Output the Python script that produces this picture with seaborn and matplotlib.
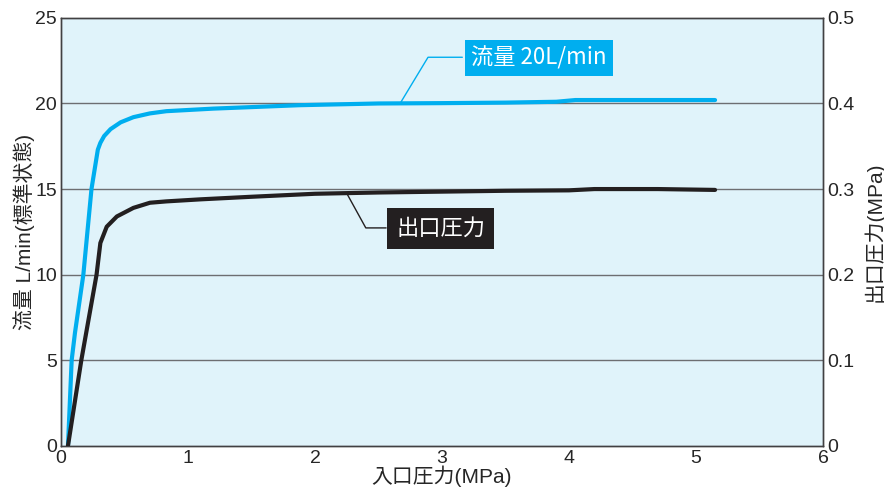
import matplotlib
matplotlib.use("Agg")
import matplotlib.pyplot as plt
import seaborn as sns
import pandas as pd

# inlet pressure (MPa) vs flow (L/min)
flow_x = [0.055, 0.084, 0.11, 0.176, 0.24, 0.29, 0.31, 0.34, 0.39, 0.47, 0.57, 0.70, 0.83,
          1.2, 1.88, 2.5, 3.0, 3.5, 3.9, 4.05, 4.5, 5.15]
flow_y = [0.0, 5.0, 6.6, 10.0, 15.0, 17.3, 17.7, 18.1, 18.5, 18.9, 19.2, 19.42, 19.55,
          19.7, 19.9, 20.0, 20.02, 20.05, 20.1, 20.2, 20.2, 20.2]

# inlet pressure (MPa) vs outlet pressure (MPa)
outlet_x = [0.055, 0.16, 0.28, 0.31, 0.36, 0.44, 0.57, 0.70, 0.83, 1.1, 1.5, 2.0, 2.5,
            3.0, 3.5, 4.0, 4.2, 4.7, 5.15]
outlet_y = [0.0, 0.1, 0.2, 0.237, 0.256, 0.268, 0.278, 0.284, 0.2856, 0.288, 0.291, 0.2945, 0.296,
            0.297, 0.298, 0.2985, 0.3, 0.3, 0.299]

left_ticks = [0, 5, 10, 15, 20, 25]
right_ticks = [0, 0.1, 0.2, 0.3, 0.4, 0.5]
right_labels = ["0", "0.1", "0.2", "0.3", "0.4", "0.5"]
x_ticks = [0, 1, 2, 3, 4, 5, 6]

sns.set_style("white")
plt.rcParams['font.family'] = ['Liberation Sans', 'Noto Sans CJK JP', 'DejaVu Sans']

blue = "#00AEEF"
black = "#231F20"

fig, ax = plt.subplots(figsize=(8.84, 4.97), dpi=100)
fig.subplots_adjust(left=0.069, right=0.931, top=0.964, bottom=0.103)
ax.set_facecolor("#E0F3FA")

df_flow = pd.DataFrame({"x": flow_x, "y": flow_y})
df_out = pd.DataFrame({"x": outlet_x, "y": outlet_y})

ax.set_xlim(0, 6)
ax.set_ylim(0, 25)
ax.set_xticks(x_ticks)
ax.set_yticks(left_ticks)
for v in [5, 10, 15, 20]:
    ax.axhline(v, color="#6D6E71", lw=1.0, zorder=1)

sns.lineplot(data=df_flow, x="x", y="y", ax=ax, color=blue, lw=3.0, zorder=4)

ax2 = ax.twinx()
ax2.set_ylim(0, 0.5)
ax2.set_yticks(right_ticks)
ax2.set_yticklabels(right_labels)
sns.lineplot(data=df_out, x="x", y="y", ax=ax2, color=black, lw=3.0, zorder=4)

ax.set_xlabel("入口圧力(MPa)", fontsize=15, labelpad=-1)
ax.set_ylabel("流量 L/min(標準状態)", fontsize=15, labelpad=0)
ax2.set_ylabel("出口圧力(MPa)", fontsize=15, labelpad=6)

for a in (ax, ax2):
    a.tick_params(labelsize=14, length=0, pad=3)
    for s in a.spines.values():
        s.set_color("#414042")
        s.set_linewidth(1.0)
ax.tick_params(axis="x", direction="in", length=5, color="#414042", pad=3)
ax2.set_xlim(0, 6)

# labels with leader lines
ax.plot([2.67, 2.89, 3.16], [20.0, 22.7, 22.7], color=blue, lw=1.0, zorder=5)
ax.text(3.23, 22.65, "流量 20L/min", fontsize=16, color="white", va="center", ha="left",
        family=['Noto Sans CJK JP', 'DejaVu Sans'],
        bbox=dict(boxstyle="square,pad=0.28", fc=blue, ec="none"), zorder=6)
ax.plot([2.25, 2.40, 2.56], [14.75, 12.73, 12.73], color=black, lw=1.0, zorder=5)
ax.text(2.64, 12.7, "出口圧力", fontsize=16, color="white", va="center", ha="left",
        family=['Noto Sans CJK JP', 'DejaVu Sans'],
        bbox=dict(boxstyle="square,pad=0.4", fc=black, ec="none"), zorder=6)

fig.savefig("out.png", dpi=100, facecolor="white")
